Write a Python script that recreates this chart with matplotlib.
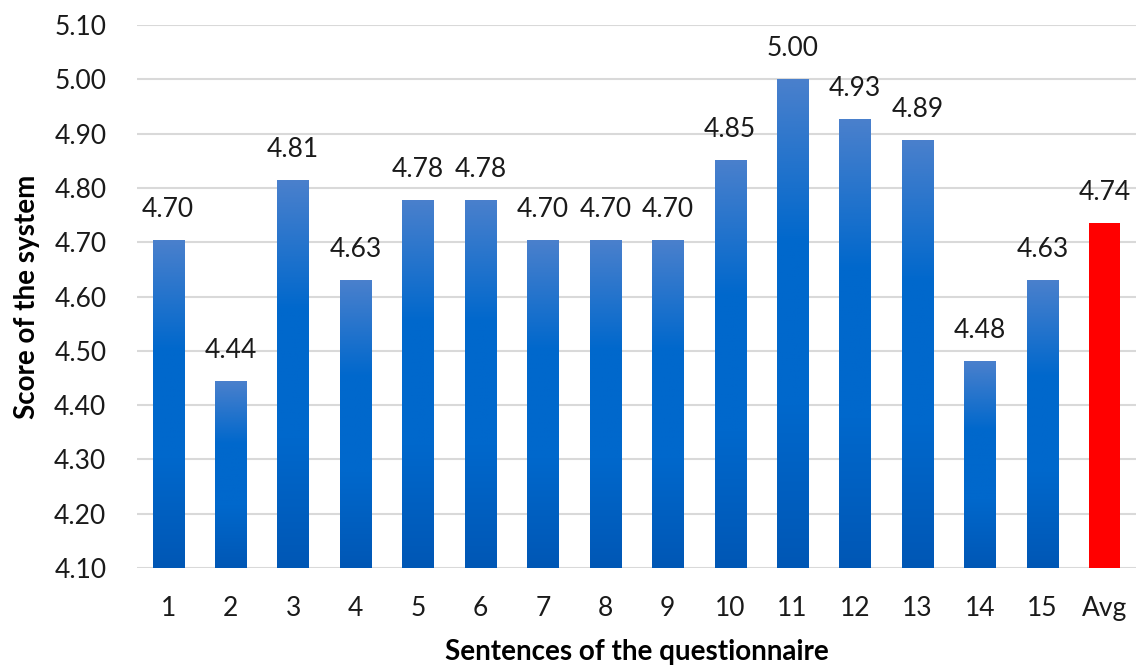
import numpy as np
import matplotlib.pyplot as plt
from matplotlib.colors import LinearSegmentedColormap

#------------------------------------------------------------------------------
# DATA
#------------------------------------------------------------------------------

categories = ['1', '2', '3', '4', '5', '6', '7', '8', '9', '10',
              '11', '12', '13', '14', '15', 'Avg']
scores = [4.704, 4.444, 4.814, 4.630, 4.778, 4.778, 4.704, 4.704, 4.704,
          4.852, 5.000, 4.926, 4.889, 4.481, 4.630, 4.736]
yticks = [4.10, 4.20, 4.30, 4.40, 4.50, 4.60, 4.70, 4.80, 4.90, 5.00, 5.10]

#------------------------------------------------------------------------------
# PLOT
#------------------------------------------------------------------------------

plt.rcParams['font.family'] = ['Lato', 'DejaVu Sans']

fig = plt.figure(figsize=(11.36, 6.67), dpi=100)
ax = fig.add_axes([0.1206, 0.1484, 0.8794, 0.8141])

x = np.arange(len(categories))
ymin, ymax = 4.10, 5.10

colors = ['#1565c8'] * (len(categories) - 1) + ['#ff0000']
bars = ax.bar(x, [s - ymin for s in scores], bottom=ymin, width=0.5,
              color=colors, edgecolor='none', zorder=3)

# vertical gradient on the blue bars
cmap = LinearSegmentedColormap.from_list('blue_grad', ['#0057b5', '#0068cc', '#0068cc', '#4a80cc'])
grad = np.linspace(0, 1, 256).reshape(-1, 1)
for b in bars[:-1]:
    x0, y0 = b.get_x(), b.get_y()
    w, h = b.get_width(), b.get_height()
    im = ax.imshow(grad, cmap=cmap, origin='lower', aspect='auto',
                   extent=[x0, x0 + w, y0, y0 + h], zorder=3.5)
    im.set_clip_path(b)

for xi, s in zip(x, scores):
    ax.annotate('%.2f' % s, (xi, s), xytext=(0, 13), textcoords='offset points',
                ha='center', va='bottom', fontsize=19, color='#1a1a1a')

ax.set_xlim(-0.5, len(categories) - 0.5)
ax.set_ylim(ymin, ymax)
ax.set_yticks(yticks)
ax.set_yticklabels(['%.2f' % t for t in yticks])
ax.set_xticks(x)
ax.set_xticklabels(categories)
ax.tick_params(axis='both', length=0, labelsize=19, colors='#1a1a1a')
ax.tick_params(axis='y', pad=22)
ax.tick_params(axis='x', pad=20)

ax.grid(axis='y', color='#d9d9d9', linewidth=1.5, zorder=0)
for sp in ax.spines.values():
    sp.set_visible(False)

ax.set_ylabel('Score of the system', fontsize=20, fontweight='bold', labelpad=10)
ax.set_xlabel('Sentences of the questionnaire', fontsize=20, fontweight='bold', labelpad=13)

fig.savefig('out.png', dpi=100)
